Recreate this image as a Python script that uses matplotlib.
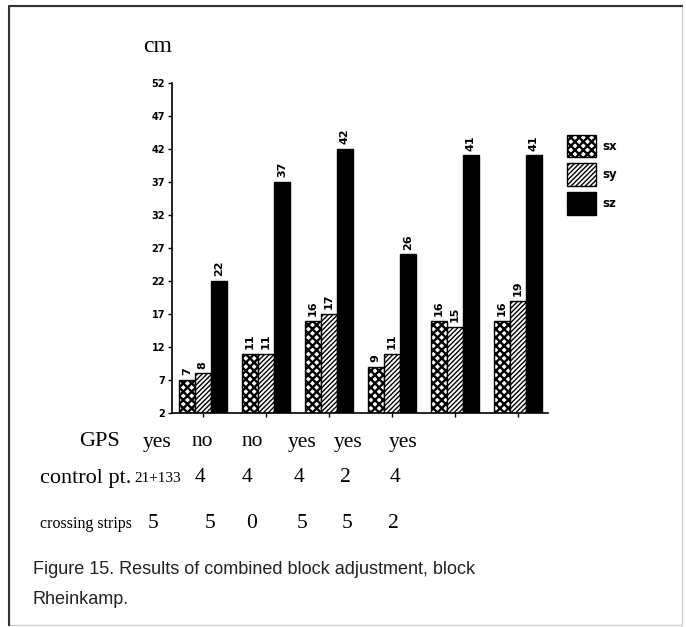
import matplotlib
matplotlib.use("Agg")
import matplotlib.pyplot as plt
from matplotlib.patches import Rectangle
import numpy as np

# mean errors per block variant (cm)
sx = [7, 11, 16, 9, 16, 16]
sy = [8, 11, 17, 11, 15, 19]
sz = [22, 37, 42, 26, 41, 41]
series_names = ["sx", "sy", "sz"]

gps = ["yes", "no", "no", "yes", "yes", "yes"]
control_pt = ["21+133", "4", "4", "4", "2", "4"]
crossing_strips = ["5", "5", "0", "5", "5", "2"]

yticks = list(range(2, 53, 5))

W, H = 686, 627
fig = plt.figure(figsize=(W / 100, H / 100), dpi=100)

def fx(px):
    return px / W

def fy(py):
    return 1 - py / H

ax = fig.add_axes([fx(172), fy(413), fx(548) - fx(172), fy(82.7) - fy(413)])

x = np.arange(len(sx))
w = 0.255
styles = [
    (dict(facecolor="white", hatch="xxxx"), 1.7),
    (dict(facecolor="white", hatch="///////"), 1.0),
    (dict(facecolor="black", hatch=None), 1.0),
]
for i, (vals, name, (st, hlw)) in enumerate(zip([sx, sy, sz], series_names, styles)):
    # bars start at the axis floor (2 cm)
    with plt.rc_context({'hatch.linewidth': hlw}):
        ax.bar(x + (i - 1) * w, np.array(vals) - 2, width=w, bottom=2,
               edgecolor="black", linewidth=1.0, label=name, **st)
    for xi, v in zip(x + (i - 1) * w, vals):
        ax.text(xi, v + 0.7, str(v), rotation=90, ha="center", va="bottom",
                fontsize=8, fontweight="bold")

ax.set_xlim(-0.49, 5.48)
ax.set_ylim(2, 52)
ax.set_yticks(yticks)
ax.set_yticklabels([str(t) for t in yticks], fontsize=7, fontweight="bold")
ax.set_xticks(x)
ax.set_xticklabels([])
ax.tick_params(axis="x", length=3, width=1)
ax.tick_params(axis="y", length=3, width=1, pad=2)
for s in ["top", "right"]:
    ax.spines[s].set_visible(False)
for s in ["left", "bottom"]:
    ax.spines[s].set_linewidth(1.2)

leg = ax.legend(loc="upper left", bbox_to_anchor=(fx(556), fy(124)),
                bbox_transform=fig.transFigure, frameon=False,
                handlelength=2.5, handleheight=2.6, handletextpad=0.5,
                labelspacing=0.5, prop=dict(size=8.5, weight="bold"))
for p, (_, hlw) in zip(leg.get_patches(), styles):
    if hasattr(p, "set_hatch_linewidth"):
        p.set_hatch_linewidth(hlw)

serif = "Liberation Serif"
fig.text(fx(158), fy(47), "cm", family=serif, fontsize=17, ha="center", va="center")

# table of block configurations below the chart
fig.text(fx(100), fy(442), "GPS", family=serif, fontsize=16, ha="center", va="center")
for px, t in zip([157, 202, 252, 302, 348, 403], gps):
    fig.text(fx(px), fy(442), t, family=serif, fontsize=15.5, ha="center", va="center")

fig.text(fx(40), fy(478), "control pt.", family=serif, fontsize=16, ha="left", va="center")
for px, t in zip([158, 200, 247, 299, 345, 395], control_pt):
    fig.text(fx(px), fy(478), t, family=serif, fontsize=11 if len(t) > 1 else 15.5,
             ha="center", va="center")

fig.text(fx(40), fy(524), "crossing strips", family=serif, fontsize=11.5, ha="left", va="center")
for px, t in zip([153, 210, 252, 302, 347, 393], crossing_strips):
    fig.text(fx(px), fy(524), t, family=serif, fontsize=15.5, ha="center", va="center")

caption = ["Figure 15. Results of combined block adjustment, block", "Rheinkamp."]
for py, line in zip([570, 600], caption):
    fig.text(fx(33), fy(py), line, family="Liberation Sans", fontsize=13,
             ha="left", va="center", color="#222222")

# page frame
fig.add_artist(Rectangle((fx(9), fy(625)), fx(682) - fx(9), fy(6) - fy(625),
                         transform=fig.transFigure, fill=False, edgecolor="#cccccc", linewidth=1))
fig.add_artist(plt.Line2D([fx(9), fx(9), fx(682)], [fy(625), fy(6), fy(6)],
                          transform=fig.transFigure, color="#333333", linewidth=1.5))

fig.savefig("out.png", dpi=100)
